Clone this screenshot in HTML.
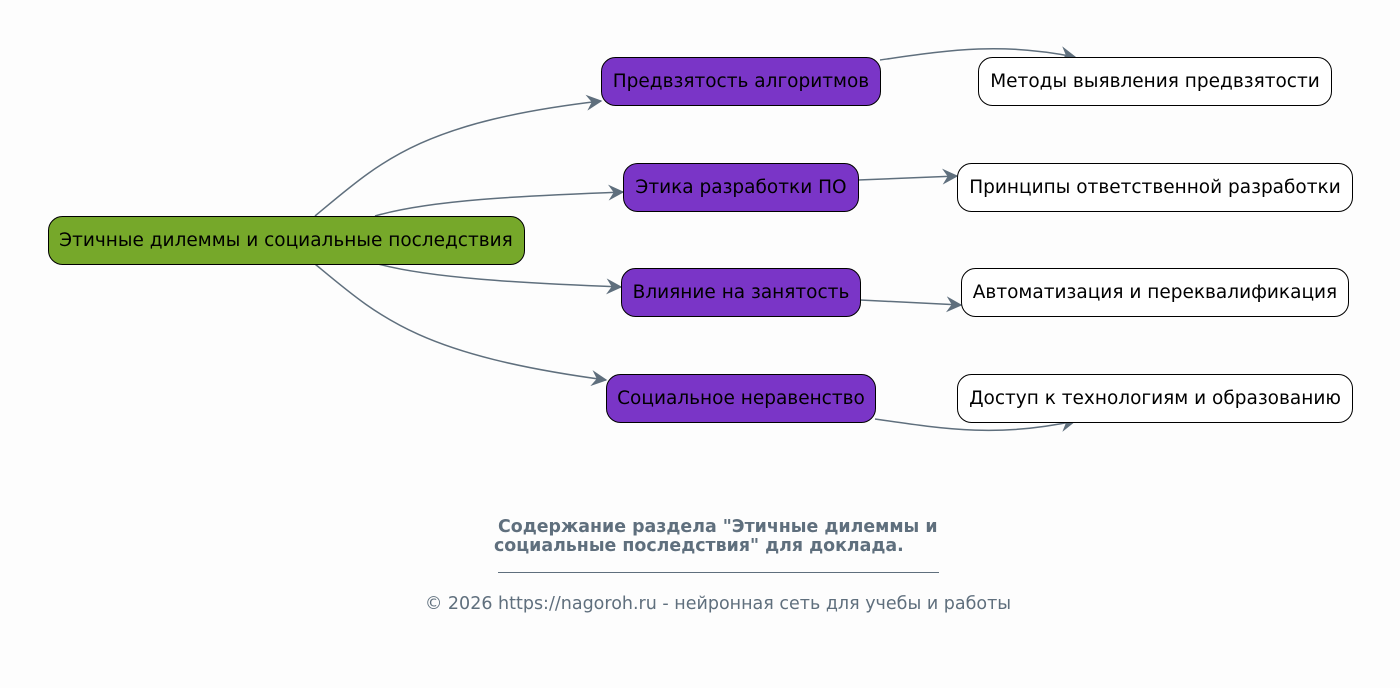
<!DOCTYPE html>
<html><head><meta charset="utf-8"><style>
html,body{margin:0;padding:0;background:#fdfdfd;}
svg{display:block;}
text{font-family:"DejaVu Sans","Liberation Sans",sans-serif;}
</style></head><body>
<svg width="1400" height="688" viewBox="0 0 1400 688" xmlns="http://www.w3.org/2000/svg">
<defs>
<marker id="a" viewBox="0 0 12 12" refX="11" refY="6" markerWidth="16" markerHeight="16" markerUnits="userSpaceOnUse" orient="auto">
<path d="M0,0 L12,6 L0,12 L4,6 z" fill="#5f6f7d"/>
</marker>
</defs>
<rect width="1400" height="688" fill="#fdfdfd"/>
<g fill="none" stroke="#5f6f7d" stroke-width="1.5" marker-end="url(#a)">
<path d="M315,216 C380,162 420,122 601,101"/>
<path d="M375,216 C430,200 520,196 623,192"/>
<path d="M378,264 C430,278 520,283 621,287"/>
<path d="M315,264 C380,318 420,355 606,380"/>
<path d="M880,60 C950,50 1000,42 1075,57"/>
<path d="M858,180 L957,176"/>
<path d="M860,300 L961,305"/>
<path d="M875,419 C950,430 1000,437 1075,421"/>
</g>
<g stroke="#000" stroke-width="1">
<rect x="48.5" y="216.5" width="476" height="48" rx="14" fill="#76a82a"/>
<rect x="601.5" y="57.5" width="279" height="48" rx="14" fill="#7a35c7"/>
<rect x="623.5" y="163.5" width="235" height="48" rx="14" fill="#7a35c7"/>
<rect x="621.5" y="268.5" width="239" height="48" rx="14" fill="#7a35c7"/>
<rect x="606.5" y="374.5" width="269" height="48" rx="14" fill="#7a35c7"/>
<rect x="978.5" y="57.5" width="353" height="48" rx="14" fill="#fff"/>
<rect x="957.5" y="163.5" width="395" height="48" rx="14" fill="#fff"/>
<rect x="961.5" y="268.5" width="387" height="48" rx="14" fill="#fff"/>
<rect x="957.5" y="374.5" width="395" height="48" rx="14" fill="#fff"/>
</g>
<g font-size="18.5" fill="#000" text-anchor="middle">
<text x="286" y="246">Этичные дилеммы и социальные последствия</text>
<text x="741" y="87">Предвзятость алгоритмов</text>
<text x="741" y="193">Этика разработки ПО</text>
<text x="741" y="298">Влияние на занятость</text>
<text x="741" y="404">Социальное неравенство</text>
<text x="1155" y="87">Методы выявления предвзятости</text>
<text x="1155" y="193">Принципы ответственной разработки</text>
<text x="1155" y="298">Автоматизация и переквалификация</text>
<text x="1155" y="404">Доступ к технологиям и образованию</text>
</g>
<g fill="#5f6f7d">
<text x="498" y="532" font-size="17.4" font-weight="bold">Содержание раздела "Этичные дилеммы и</text>
<text x="494" y="551" font-size="17.4" font-weight="bold">социальные последствия" для доклада.</text>
<rect x="498" y="572" width="441" height="1"/>
<text x="718" y="609" font-size="17.5" text-anchor="middle">© 2026 https://nagoroh.ru - нейронная сеть для учебы и работы</text>
</g>
</svg>
</body></html>
